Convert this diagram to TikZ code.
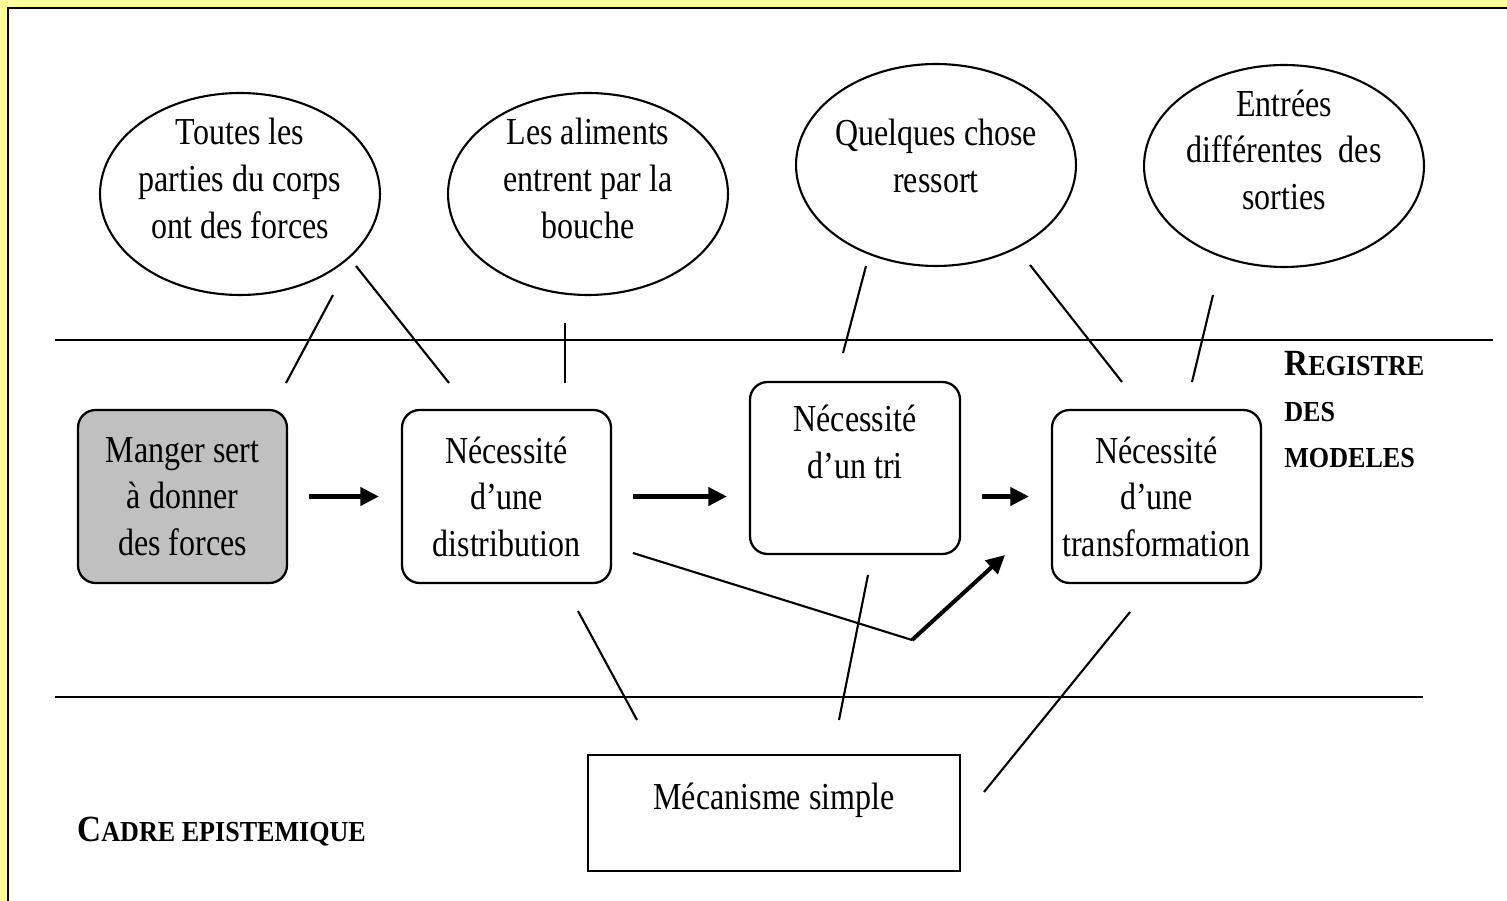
\documentclass[tikz,border=0pt]{standalone}
\usepackage{fontspec}
\setmainfont[FakeStretch=0.84]{Liberation Serif}
\newfontfamily\headfont[FakeStretch=0.9]{Liberation Serif}
\usetikzlibrary{shapes.geometric, arrows.meta, positioning}

\definecolor{paper}{RGB}{255,255,153}
\definecolor{boxgray}{RGB}{192,192,192}

\begin{document}
\begin{tikzpicture}[
    x=0.02cm, y=-0.02cm,
    every node/.style={font=\fontsize{21.7}{26.5}\selectfont},
    bubble/.style={
        ellipse, draw, line width=1.2pt,
        minimum width=5.6cm, minimum height=4.04cm, inner sep=0pt
    },
    stepbox/.style={
        rectangle, rounded corners=10pt,
        draw, line width=1.3pt,
        minimum width=4.18cm, minimum height=3.46cm,
        align=center, inner sep=0pt
    },
    tie/.style={line width=1.2pt},
    flow/.style={line width=2.3pt, -{Triangle[length=0.37cm, width=0.36cm]}},
    regname/.style={anchor=west, inner sep=0pt,
        font=\headfont\bfseries\fontsize{16.5}{18}\selectfont}
]

%% ── Page: yellow margin and framed sheet ───────────────────────────
\clip (0,0) rectangle (1507,901);
\fill[paper] (0,0) rectangle (1507,901);
\filldraw[fill=white, draw=black, line width=1.4pt]
    (8,8) rectangle (1540,940);

%% ── Bubbles (top row) ──────────────────────────────────────────────
\node[bubble] (parts) at (240,194) {};
\node[align=center] at ([yshift=0.31cm]parts.center)
    {Toutes les\\parties du corps\\ont des forces};

\node[bubble] (mouth) at (588,194) {};
\node[align=center] at ([yshift=0.31cm]mouth.center)
    {Les aliments\\entrent par la\\bouche};

\node[bubble] (outlet) at (936,165) {};
\node[align=center] at ([yshift=0.18cm]outlet.center)
    {Quelques chose\\ressort};

\node[bubble] (inout) at (1284,166) {};
\node[align=center] at ([yshift=0.33cm]inout.center)
    {Entrées\\différentes~ des\\sorties};

%% ── Separators ─────────────────────────────────────────────────────
\draw[tie] (55,340) -- (1493,340);
\draw[tie] (55,697) -- (1423,697);

%% ── Model boxes ────────────────────────────────────────────────────
\node[stepbox, fill=boxgray] (eat) at (182.5,496.5)
    {Manger sert\\à donner\\des forces};
\node[stepbox] (distrib) at (506.5,496.5)
    {Nécessité\\d’une\\distribution};
\node[stepbox, minimum width=4.2cm, minimum height=3.44cm]
    (sort) at (855,468) {};
\node[align=center] at ([yshift=0.52cm]sort.center)
    {Nécessité\\d’un tri};
\node[stepbox] (trans) at (1156.5,496.5)
    {Nécessité\\d’une\\transformation};

%% Epistemic frame box
\node[draw, line width=1.3pt, minimum width=7.44cm, minimum height=2.32cm]
    (meca) at (774,813) {};
\node at ([yshift=0.26cm]meca.center) {Mécanisme simple};

%% ── Arrows between boxes ───────────────────────────────────────────
\draw[flow, shorten <=0.42cm, shorten >=0.44cm]
    (eat.east) -- (distrib.west);
\draw[flow, shorten <=0.42cm, shorten >=0.44cm]
    (distrib.east) -- (distrib.east -| sort.west);
\draw[flow, shorten <=0.42cm, shorten >=0.44cm]
    (sort.east |- trans.west) -- (trans.west);

%% Bent arrow under the sorting box
\coordinate (bendA) at (633,553);
\coordinate (bendB) at (912,640);
\coordinate (bendC) at (1005,555);
\draw[tie] (bendA) -- (bendB);
\draw[flow] (bendB) -- (bendC);

%% ── Ties from bubbles down to boxes ────────────────────────────────
\coordinate (pA) at (333,295);  \coordinate (pB) at (286,383);
\coordinate (pC) at (356,266);  \coordinate (pD) at (449,383);
\coordinate (mA) at (565,323);  \coordinate (mB) at (565,383);
\coordinate (oA) at (866,266);  \coordinate (oB) at (843,353);
\coordinate (iA) at (1030,265); \coordinate (iB) at (1122,382);
\coordinate (iC) at (1213,295); \coordinate (iD) at (1192,382);
\draw[tie] (pA) -- (pB);
\draw[tie] (pC) -- (pD);
\draw[tie] (mA) -- (mB);
\draw[tie] (oA) -- (oB);
\draw[tie] (iA) -- (iB);
\draw[tie] (iC) -- (iD);

%% ── Ties from boxes down to the frame ──────────────────────────────
\coordinate (dA) at (578,611);  \coordinate (dB) at (637,720);
\coordinate (sA) at (868,575);  \coordinate (sB) at (839,720);
\coordinate (tA) at (1130,612); \coordinate (tB) at (984,792);
\draw[tie] (dA) -- (dB);
\draw[tie] (sA) -- (sB);
\draw[tie] (tA) -- (tB);

%% ── Register labels ────────────────────────────────────────────────
\node[regname] (registre) at (1284,364)
    {{\fontsize{21}{22}\selectfont R}EGISTRE};
\node[regname] (des) at (1284,412) {DES};
\node[regname] (modeles) at (1284,458) {MODELES};
\node[regname] (cadre) at (77,832)
    {{\fontsize{21}{22}\selectfont C}ADRE EPISTEMIQUE};

\end{tikzpicture}
\end{document}
